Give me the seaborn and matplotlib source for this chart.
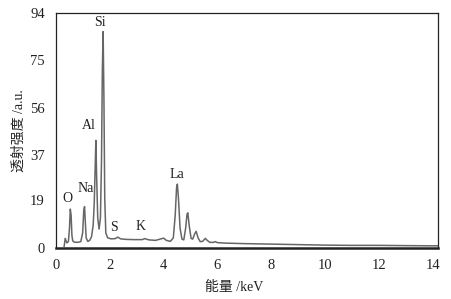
import matplotlib
matplotlib.use("Agg")
import matplotlib.pyplot as plt
import seaborn as sns
import pandas as pd

energy = [0.30, 0.34, 0.40, 0.46, 0.50, 0.53, 0.56, 0.59, 0.62, 0.68, 0.80, 0.92,
          0.99, 1.03, 1.06, 1.09, 1.12, 1.18, 1.25, 1.32, 1.38, 1.42, 1.45, 1.48,
          1.51, 1.55, 1.60, 1.65, 1.69, 1.72, 1.75, 1.78, 1.81, 1.85, 1.92, 2.05,
          2.20, 2.30, 2.40, 2.60, 2.90, 3.20, 3.30, 3.45, 3.70, 4.00, 4.10, 4.25,
          4.36, 4.43, 4.48, 4.51, 4.55, 4.61, 4.68, 4.75, 4.82, 4.87, 4.90, 4.95,
          5.02, 5.08, 5.15, 5.21, 5.28, 5.36, 5.45, 5.55, 5.62, 5.72, 5.85, 5.92,
          6.00, 6.30, 7.00, 8.00, 9.00, 10.0, 11.0, 12.0, 13.0, 14.2]
intensity = [0.5, 3.8, 2.0, 2.5, 8.0, 15.5, 13.0, 5.0, 2.8, 2.3, 2.2, 2.5,
             6.0, 15.0, 16.5, 10.0, 4.0, 2.6, 3.0, 4.5, 9.0, 18.0, 30.0, 43.0,
             28.0, 12.0, 7.5, 12.0, 35.0, 70.0, 86.5, 60.0, 20.0, 6.0, 4.0, 3.6,
             3.7, 4.3, 3.6, 3.4, 3.3, 3.3, 3.7, 3.2, 3.0, 3.9, 3.0, 2.6,
             4.0, 13.0, 24.0, 25.5, 20.0, 8.0, 3.5, 3.2, 8.0, 13.5, 14.0, 9.0,
             3.8, 3.5, 5.5, 6.6, 4.0, 2.5, 2.6, 3.8, 3.0, 2.2, 2.2, 2.5,
             2.1, 1.9, 1.7, 1.5, 1.3, 1.1, 1.0, 1.0, 0.9, 0.8]

elements = ["O", "Na", "Al", "Si", "S", "K", "La"]
label_x = [0.41, 1.12, 1.23, 1.64, 2.16, 3.13, 4.50]
label_y = [19.8, 23.8, 48.8, 90.0, 8.0, 8.5, 29.4]

x_ticks = [0, 2, 4, 6, 8, 10, 12, 14]
y_ticks = [0, 19, 37, 56, 75, 94]

sns.set_theme(style="white")
plt.rcParams['font.family'] = ['Liberation Serif', 'Noto Sans CJK SC']

df = pd.DataFrame({"energy": energy, "intensity": intensity})

fig = plt.figure(figsize=(4.52, 2.99), dpi=100)
ax = fig.add_axes([0.124, 0.171, 0.845, 0.786])
sns.lineplot(data=df, x="energy", y="intensity", ax=ax, color="#666666", linewidth=1.1)

for t, xx, yy in zip(elements, label_x, label_y):
    ax.text(xx, yy, t, ha="center", va="center", fontsize=10, color="#222222")

ax.set_xlim(0, 14.2)
ax.set_ylim(0, 94)
ax.set_xticks(x_ticks)
ax.set_yticks(y_ticks)
ax.tick_params(axis="both", labelsize=10.5, colors="#222222", length=0, pad=8)
for s in ax.spines.values():
    s.set_color("#222222")
    s.set_linewidth(0.9)
ax.spines["bottom"].set_linewidth(1.8)

ax.set_xlabel("能量 /keV", fontsize=10, color="#222222")
ax.set_ylabel("透射强度 /a.u.", fontsize=10, color="#222222")
ax.xaxis.set_label_coords((234 - 56) / 382, -0.14)
ax.yaxis.set_label_coords(-0.08, 0.5)

fig.savefig("out.png", dpi=100)
